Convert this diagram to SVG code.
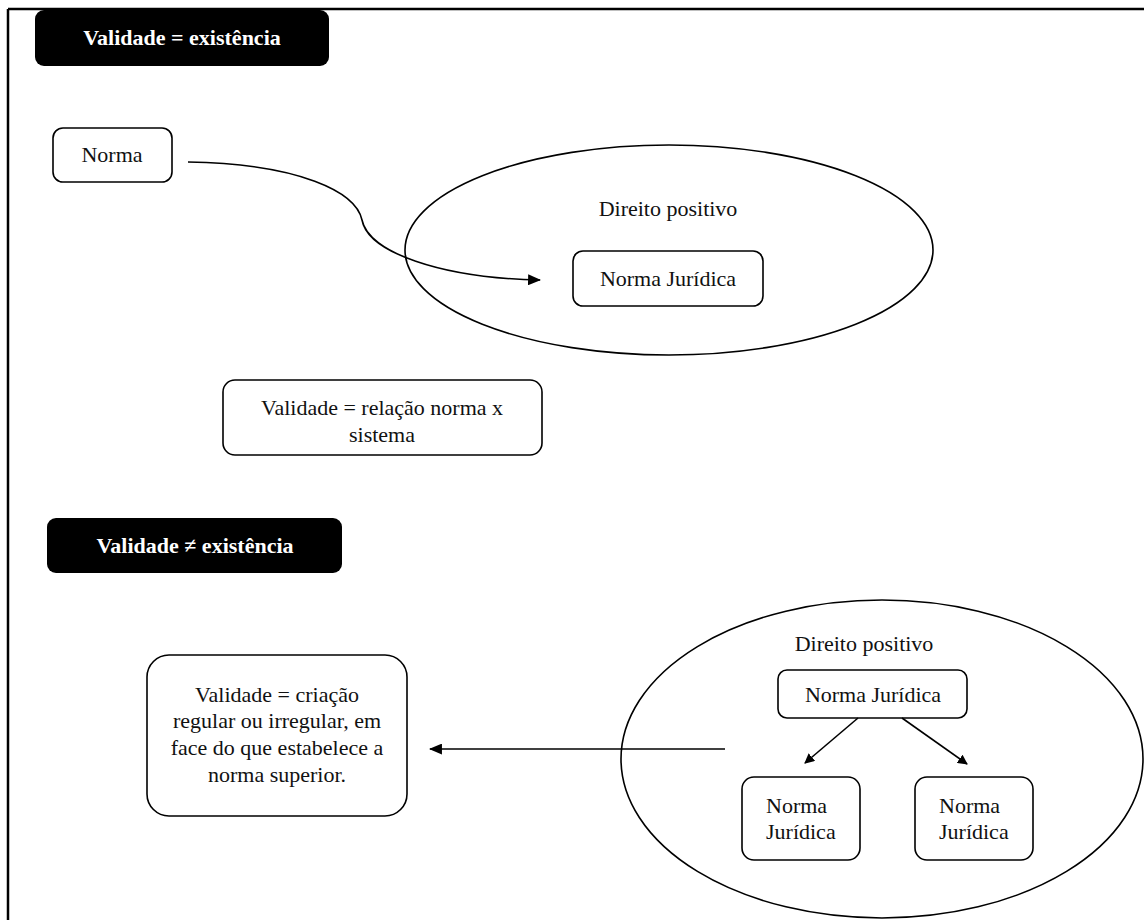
<svg xmlns="http://www.w3.org/2000/svg" width="1144" height="920" viewBox="0 0 1144 920">
<style>
.box{fill:#fff;stroke:#000;stroke-width:1.6}
.hdr{fill:#000;stroke:none}
.t{font-family:"Liberation Serif","Times New Roman",serif;font-size:22px;fill:#111}
.c{text-anchor:middle}
.h{font-family:"Liberation Serif","Times New Roman",serif;font-size:22px;font-weight:bold;fill:#fff;text-anchor:middle}
.ell{fill:none;stroke:#000;stroke-width:1.6}
.ln{fill:none;stroke:#000;stroke-width:1.6}
</style>
<defs>
<marker id="ah" viewBox="0 0 10 10" refX="9" refY="5" markerWidth="10" markerHeight="10" markerUnits="userSpaceOnUse" orient="auto">
<path d="M0,0 L10,5 L0,10 Z" fill="#000"/>
</marker>
<marker id="ah2" viewBox="0 0 12 10" refX="11" refY="5" markerWidth="13" markerHeight="11" markerUnits="userSpaceOnUse" orient="auto">
<path d="M0,0 L12,5 L0,10 Z" fill="#000"/>
</marker>
</defs>
<rect width="1144" height="920" fill="#fff"/>
<g id="frame">
<line x1="8" y1="9" x2="1144" y2="9" stroke="#000" stroke-width="2.5"/>
<line x1="8" y1="9" x2="8" y2="920" stroke="#000" stroke-width="2.5"/>
</g>

<g id="header1">
<rect class="hdr" x="35" y="10" width="294" height="56" rx="9"/>
<text class="h" x="182" y="45">Validade = existência</text>
</g>

<g id="ellipse1">
<ellipse class="ell" cx="669" cy="250" rx="264" ry="105"/>
<text class="t c" x="668" y="216">Direito positivo</text>
</g>

<g id="norma">
<rect class="box" x="53" y="128" width="119" height="54" rx="10"/>
<text class="t c" x="112" y="162">Norma</text>
</g>

<g id="normaJuridica1">
<rect class="box" x="573" y="251" width="190" height="55" rx="10"/>
<text class="t c" x="668" y="286">Norma Jurídica</text>
</g>

<g id="relacao">
<rect class="box" x="223" y="380" width="319" height="75" rx="12"/>
<text class="t c" x="382" y="415">Validade = relação norma x</text>
<text class="t c" x="382" y="442">sistema</text>
</g>

<g id="header2">
<rect class="hdr" x="47" y="518" width="295" height="55" rx="9"/>
<text class="h" x="195" y="553">Validade ≠ existência</text>
</g>

<g id="criacao">
<rect class="box" x="147" y="655" width="260" height="161" rx="22"/>
<text class="t c" x="277" y="702">Validade = criação</text>
<text class="t c" x="277" y="728">regular ou irregular, em</text>
<text class="t c" x="277" y="755">face do que estabelece a</text>
<text class="t c" x="277" y="782">norma superior.</text>
</g>

<g id="ellipse2">
<ellipse class="ell" cx="882" cy="759" rx="261" ry="159"/>
<text class="t c" x="864" y="651">Direito positivo</text>
</g>

<g id="normaJuridicaTop">
<rect class="box" x="778" y="670" width="189" height="48" rx="9"/>
<text class="t c" x="873" y="702">Norma Jurídica</text>
</g>

<g id="normaJuridicaLeft">
<rect class="box" x="742" y="777" width="118" height="83" rx="12"/>
<text class="t" x="766" y="813">Norma</text>
<text class="t" x="766" y="839">Jurídica</text>
</g>

<g id="normaJuridicaRight">
<rect class="box" x="915" y="777" width="118" height="83" rx="12"/>
<text class="t" x="939" y="813">Norma</text>
<text class="t" x="939" y="839">Jurídica</text>
</g>

<g id="connectors">
<path class="ln" d="M188,162 C300,164 356,192 362,220 C368,252 440,278 540,280" marker-end="url(#ah2)"/>
<line class="ln" x1="858" y1="718" x2="805" y2="763" marker-end="url(#ah)"/>
<line class="ln" x1="902" y1="718" x2="967" y2="764" marker-end="url(#ah)"/>
<line class="ln" x1="725" y1="749" x2="430" y2="749" marker-end="url(#ah2)"/>
</g>
</svg>
